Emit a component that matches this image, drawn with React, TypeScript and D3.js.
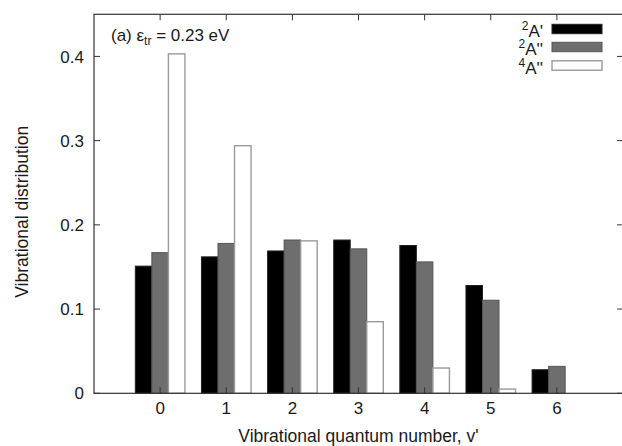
import React from "react";
import * as d3 from "d3";

const categories = [0, 1, 2, 3, 4, 5, 6];
const series2Ap = [0.151, 0.162, 0.169, 0.182, 0.1755, 0.128, 0.028];
const series2App = [0.167, 0.178, 0.182, 0.1715, 0.156, 0.1105, 0.032];
const series4App = [0.403, 0.294, 0.181, 0.085, 0.030, 0.005, 0];
const yTicks = [0, 0.1, 0.2, 0.3, 0.4];
const yTickLabels = ["0", "0.1", "0.2", "0.3", "0.4"];

const W = 622;
const H = 446;
const left = 94;
const right = 623;
const top = 14.3;
const bottom = 393.3;

const FONT = "'Liberation Sans', Arial, sans-serif";
const TXT = "#1a1a1a";

export default function App() {
  const x = d3.scaleLinear().domain([-1, 7]).range([left, right]);
  const y = d3.scaleLinear().domain([0, 0.45]).range([bottom, top]);
  const bw = 0.25;
  const series = [
    { name: "2A'", values: series2Ap, fill: "#000000", stroke: "#222", sup: "2", base: "A'" },
    { name: "2A''", values: series2App, fill: "#6e6e6e", stroke: "#555", sup: "2", base: "A''" },
    { name: "4A''", values: series4App, fill: "#ffffff", stroke: "#9a9a9a", sup: "4", base: "A''" },
  ];
  const tl = 6;
  const legendY = [29, 47, 65.5];

  return (
    <svg
      width={W}
      height={H}
      style={{ position: "absolute", left: 0, top: 0, background: "#fff" }}
      fontFamily={FONT}
    >
      <rect x={0} y={0} width={W} height={H} fill="#fff" />
      {/* bars */}
      {series.map((s, si) =>
        s.values.map((v, i) =>
          v > 0 ? (
            <rect
              key={`${si}-${i}`}
              x={x(categories[i] + (si - 1.5) * bw)}
              y={y(v)}
              width={x(bw) - x(0)}
              height={y(0) - y(v)}
              fill={s.fill}
              stroke={s.stroke}
              strokeWidth={si === 2 ? 1.4 : 1}
            />
          ) : null
        )
      )}
      {/* frame */}
      <rect x={left} y={top} width={right - left} height={bottom - top} fill="none" stroke="#333" strokeWidth={1.2} />
      {/* y ticks */}
      {yTicks.map((t, i) => (
        <g key={`yt${i}`}>
          <line x1={left} x2={left + tl} y1={y(t)} y2={y(t)} stroke="#333" />
          <line x1={right - tl} x2={right} y1={y(t)} y2={y(t)} stroke="#333" />
          <text x={84} y={y(t)} dy="0.36em" textAnchor="end" fontSize={17} fill={TXT}>
            {yTickLabels[i]}
          </text>
        </g>
      ))}
      {/* x ticks */}
      {categories.map((c) => (
        <g key={`xt${c}`}>
          <line x1={x(c)} x2={x(c)} y1={top} y2={top + tl} stroke="#333" />
          <line x1={x(c)} x2={x(c)} y1={bottom} y2={bottom - tl} stroke="#333" />
          <text x={x(c)} y={413.7} textAnchor="middle" fontSize={17} fill={TXT}>
            {String(c)}
          </text>
        </g>
      ))}
      {/* axis labels */}
      <text x={x(3)} y={442} textAnchor="middle" fontSize={17.5} fill={TXT}>
        Vibrational quantum number, v'
      </text>
      <text
        transform={`translate(28,${(top + bottom) / 2 + 8}) rotate(-90)`}
        textAnchor="middle"
        fontSize={17.5}
        fill={TXT}
      >
        Vibrational distribution
      </text>
      {/* title */}
      <text x={111} y={41} fontSize={17} fill={TXT}>
        (a) ε<tspan fontSize={12} dy={4}>tr</tspan>
        <tspan dy={-4}> = 0.23 eV</tspan>
      </text>
      {/* legend */}
      {series.map((s, si) => (
        <g key={`lg${si}`}>
          <text x={543} y={legendY[si] + 8} textAnchor="end" fontSize={17} fill={TXT}>
            <tspan fontSize={12} dy={-7}>{s.sup}</tspan>
            <tspan dy={7}>{s.base}</tspan>
          </text>
          <rect
            x={552}
            y={legendY[si] - 4.7}
            width={50}
            height={9.4}
            fill={s.fill}
            stroke={s.stroke}
            strokeWidth={si === 2 ? 1.4 : 1}
          />
        </g>
      ))}
    </svg>
  );
}
